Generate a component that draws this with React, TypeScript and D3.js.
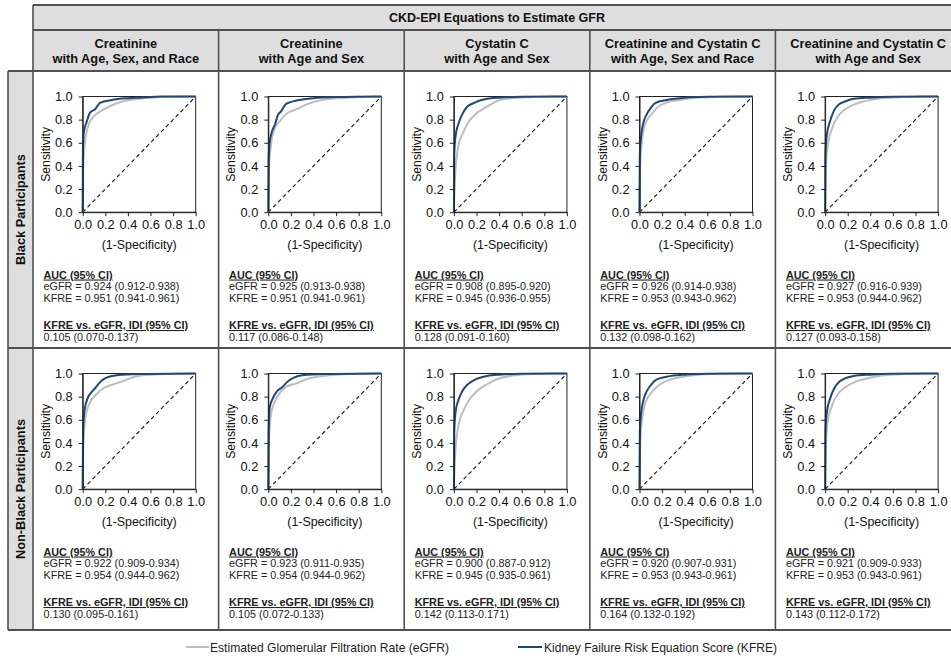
import React, { useEffect, useRef } from 'react';
import * as d3 from 'd3';

// header and row labels
const mainTitle = 'CKD-EPI Equations to Estimate GFR';
const columnTitles = [
  ['Creatinine', 'with Age, Sex, and Race'],
  ['Creatinine', 'with Age and Sex'],
  ['Cystatin C', 'with Age and Sex'],
  ['Creatinine and Cystatin C', 'with Age, Sex and Race'],
  ['Creatinine and Cystatin C', 'with Age and Sex'],
];
const rowLabels = ['Black Participants', 'Non-Black Participants'];
const tickValues = [0, 0.2, 0.4, 0.6, 0.8, 1.0];

// ROC curves, [1-specificity, sensitivity]
const egfrBlack = [
  [[0, 0], [0.005, 0.4], [0.02, 0.6], [0.05, 0.75], [0.1, 0.83], [0.17, 0.88], [0.25, 0.92], [0.35, 0.957], [0.5, 0.98], [0.7, 0.995], [1, 1]],
  [[0, 0], [0.005, 0.35], [0.024, 0.587], [0.054, 0.718], [0.1, 0.785], [0.158, 0.849], [0.25, 0.89], [0.35, 0.936], [0.5, 0.975], [0.7, 0.99], [1, 1]],
  [[0, 0], [0.01, 0.3], [0.039, 0.57], [0.083, 0.69], [0.137, 0.79], [0.2, 0.855], [0.292, 0.913], [0.38, 0.96], [0.5, 0.985], [0.7, 0.995], [1, 1]],
  [[0, 0], [0.005, 0.4], [0.02, 0.6], [0.05, 0.76], [0.11, 0.85], [0.15, 0.9], [0.245, 0.95], [0.35, 0.97], [0.5, 0.99], [0.7, 0.997], [1, 1]],
  [[0, 0], [0.005, 0.35], [0.02, 0.55], [0.06, 0.72], [0.12, 0.836], [0.164, 0.88], [0.254, 0.93], [0.35, 0.96], [0.5, 0.985], [0.7, 0.995], [1, 1]],
];
const kfreBlack = [
  [[0, 0], [0.002, 0.55], [0.01, 0.69], [0.035, 0.78], [0.065, 0.86], [0.11, 0.89], [0.153, 0.945], [0.257, 0.97], [0.4, 0.985], [0.5, 0.99], [0.7, 1], [1, 1]],
  [[0, 0], [0.003, 0.456], [0.012, 0.6], [0.03, 0.69], [0.06, 0.76], [0.083, 0.834], [0.113, 0.872], [0.158, 0.936], [0.25, 0.965], [0.4, 0.985], [0.6, 0.995], [1, 1]],
  [[0, 0], [0.003, 0.5], [0.015, 0.66], [0.039, 0.76], [0.068, 0.834], [0.113, 0.907], [0.173, 0.942], [0.292, 0.98], [0.4, 0.99], [0.6, 0.997], [1, 1]],
  [[0, 0], [0.003, 0.5], [0.015, 0.663], [0.036, 0.778], [0.066, 0.85], [0.1, 0.902], [0.143, 0.945], [0.24, 0.97], [0.4, 0.99], [0.6, 0.997], [1, 1]],
  [[0, 0], [0.003, 0.5], [0.015, 0.663], [0.045, 0.79], [0.08, 0.88], [0.128, 0.936], [0.17, 0.955], [0.254, 0.98], [0.4, 0.99], [0.6, 0.997], [1, 1]],
];
const egfrNonBlack = [
  [[0, 0], [0.005, 0.35], [0.024, 0.614], [0.05, 0.72], [0.12, 0.82], [0.18, 0.87], [0.27, 0.906], [0.36, 0.935], [0.45, 0.97], [0.6, 0.99], [1, 1]],
  [[0, 0], [0.005, 0.4], [0.02, 0.62], [0.05, 0.74], [0.1, 0.83], [0.15, 0.88], [0.25, 0.915], [0.35, 0.955], [0.5, 0.98], [0.7, 0.995], [1, 1]],
  [[0, 0], [0.01, 0.28], [0.04, 0.55], [0.085, 0.68], [0.14, 0.78], [0.2, 0.845], [0.29, 0.905], [0.38, 0.95], [0.5, 0.98], [0.7, 0.995], [1, 1]],
  [[0, 0], [0.005, 0.38], [0.02, 0.58], [0.05, 0.74], [0.11, 0.84], [0.16, 0.89], [0.25, 0.94], [0.35, 0.965], [0.5, 0.988], [0.7, 0.997], [1, 1]],
  [[0, 0], [0.005, 0.35], [0.02, 0.56], [0.06, 0.72], [0.12, 0.83], [0.17, 0.875], [0.26, 0.925], [0.36, 0.955], [0.5, 0.983], [0.7, 0.995], [1, 1]],
];
const kfreNonBlack = [
  [[0, 0], [0.003, 0.5], [0.015, 0.673], [0.045, 0.79], [0.075, 0.835], [0.113, 0.877], [0.164, 0.935], [0.21, 0.965], [0.3, 0.985], [0.5, 0.995], [1, 1]],
  [[0, 0], [0.003, 0.5], [0.012, 0.7], [0.042, 0.79], [0.078, 0.848], [0.117, 0.877], [0.177, 0.935], [0.228, 0.965], [0.3, 0.985], [0.5, 0.995], [1, 1]],
  [[0, 0], [0.003, 0.5], [0.015, 0.67], [0.04, 0.77], [0.07, 0.84], [0.115, 0.9], [0.175, 0.94], [0.29, 0.978], [0.4, 0.99], [0.6, 0.997], [1, 1]],
  [[0, 0], [0.003, 0.5], [0.015, 0.66], [0.036, 0.775], [0.066, 0.85], [0.1, 0.9], [0.145, 0.945], [0.24, 0.972], [0.4, 0.99], [0.6, 0.997], [1, 1]],
  [[0, 0], [0.003, 0.5], [0.015, 0.66], [0.045, 0.785], [0.08, 0.87], [0.128, 0.93], [0.17, 0.955], [0.254, 0.978], [0.4, 0.99], [0.6, 0.997], [1, 1]],
];

// AUC and IDI text per panel
const aucEgfr = [
  ['0.924 (0.912-0.938)', '0.925 (0.913-0.938)', '0.908 (0.895-0.920)', '0.926 (0.914-0.938)', '0.927 (0.916-0.939)'],
  ['0.922 (0.909-0.934)', '0.923 (0.911-0.935)', '0.900 (0.887-0.912)', '0.920 (0.907-0.931)', '0.921 (0.909-0.933)'],
];
const aucKfre = [
  ['0.951 (0.941-0.961)', '0.951 (0.941-0.961)', '0.945 (0.936-0.955)', '0.953 (0.943-0.962)', '0.953 (0.944-0.962)'],
  ['0.954 (0.944-0.962)', '0.954 (0.944-0.962)', '0.945 (0.935-0.961)', '0.953 (0.943-0.961)', '0.953 (0.943-0.961)'],
];
const idiValues = [
  ['0.105 (0.070-0.137)', '0.117 (0.086-0.148)', '0.128 (0.091-0.160)', '0.132 (0.098-0.162)', '0.127 (0.093-0.158)'],
  ['0.130 (0.095-0.161)', '0.105 (0.072-0.133)', '0.142 (0.113-0.171)', '0.164 (0.132-0.192)', '0.143 (0.112-0.172)'],
];

const legendItems = [
  { label: 'Estimated Glomerular Filtration Rate (eGFR)', color: '#bdbdbd' },
  { label: 'Kidney Failure Risk Equation Score (KFRE)', color: '#1f4878' },
];

const App = () => {
  const svgRef = useRef();

  useEffect(() => {
    const width = 951;
    const height = 661;
    const font = 'Liberation Sans, Arial, sans-serif';
    const lineColor = '#505050';
    const headBg = '#dedede';

    const svg = d3.select(svgRef.current);
    svg.selectAll('*').remove();
    svg.attr('width', width).attr('height', height);

    const tableLeft = 33;
    const labelLeft = 8;
    const colW = 185.6;
    const tableRight = tableLeft + colW * 5;
    const titleTop = 5;
    const headTop = 30;
    const rowTops = [71, 348, 630];

    // backgrounds
    svg.append('rect')
    .attr('x', tableLeft).attr('y', titleTop)
    .attr('width', tableRight - tableLeft).attr('height', rowTops[0] - titleTop)
    .attr('fill', headBg);
    svg.append('rect')
    .attr('x', labelLeft).attr('y', rowTops[0])
    .attr('width', tableLeft - labelLeft).attr('height', rowTops[2] - rowTops[0])
    .attr('fill', headBg);

    // grid lines
    const hLines = [
      [tableLeft, tableRight, titleTop],
      [tableLeft, tableRight, headTop],
      [labelLeft, tableRight, rowTops[0]],
      [labelLeft, tableRight, rowTops[1]],
      [labelLeft, tableRight, rowTops[2]],
    ];
    svg.append('g').selectAll('line')
    .data(hLines)
    .join('line')
    .attr('x1', d => d[0]).attr('x2', d => d[1])
    .attr('y1', d => d[2]).attr('y2', d => d[2])
    .attr('stroke', lineColor).attr('stroke-width', 1.8);

    const vLines = [[labelLeft, rowTops[0], rowTops[2]], [tableLeft, titleTop, rowTops[2]]];
    for (let c = 1; c <= 5; c++) vLines.push([tableLeft + c * colW, headTop, rowTops[2]]);
    svg.append('g').selectAll('line')
    .data(vLines)
    .join('line')
    .attr('x1', d => d[0]).attr('x2', d => d[0])
    .attr('y1', d => d[1]).attr('y2', d => d[2])
    .attr('stroke', lineColor).attr('stroke-width', 1.6);

    // titles
    svg.append('text')
    .attr('x', (tableLeft + tableRight) / 2).attr('y', 22)
    .attr('text-anchor', 'middle')
    .attr('font-family', font).attr('font-size', 12.5).attr('font-weight', 'bold')
    .attr('fill', '#111')
    .text(mainTitle);

    columnTitles.forEach((t, c) => {
      const cx = tableLeft + (c + 0.5) * colW;
      t.forEach((s, i) => {
        svg.append('text')
        .attr('x', cx).attr('y', 47.5 + i * 15.8)
        .attr('text-anchor', 'middle')
        .attr('font-family', font).attr('font-size', 12.8).attr('font-weight', 'bold')
        .attr('fill', '#111')
        .text(s);
      });
    });

    rowLabels.forEach((s, r) => {
      const cy = (rowTops[r] + rowTops[r + 1]) / 2;
      svg.append('text')
      .attr('transform', `translate(25,${cy}) rotate(-90)`)
      .attr('text-anchor', 'middle')
      .attr('font-family', font).attr('font-size', 12.8).attr('font-weight', 'bold')
      .attr('fill', '#111')
      .text(s);
    });

    // panels
    const curveSets = [[egfrBlack, kfreBlack], [egfrNonBlack, kfreNonBlack]];
    const plotW = 113;
    const plotH = 115.7;

    for (let r = 0; r < 2; r++) {
      for (let c = 0; c < 5; c++) {
        const x0 = tableLeft + c * colW;
        const y0 = rowTops[r];
        const px = x0 + 49.7;
        const py = y0 + 25.5;

        const x = d3.scaleLinear().domain([0, 1]).range([px, px + plotW]);
        const y = d3.scaleLinear().domain([0, 1]).range([py + plotH, py]);

        const g = svg.append('g');

        // frame
        g.append('rect')
        .attr('x', px).attr('y', py)
        .attr('width', plotW).attr('height', plotH)
        .attr('fill', 'none').attr('stroke', '#222').attr('stroke-width', 1);

        // diagonal reference
        g.append('line')
        .attr('x1', x(0)).attr('y1', y(0))
        .attr('x2', x(1)).attr('y2', y(1))
        .attr('stroke', '#111').attr('stroke-width', 1.1)
        .attr('stroke-dasharray', '4,3');

        // curves
        const line = d3.line()
        .x(d => x(d[0]))
        .y(d => y(d[1]))
        .curve(d3.curveMonotoneX);

        const [egfr, kfre] = curveSets[r];
        g.append('path')
        .datum(egfr[c])
        .attr('fill', 'none')
        .attr('stroke', legendItems[0].color)
        .attr('stroke-width', 2)
        .attr('d', line);
        g.append('path')
        .datum(kfre[c])
        .attr('fill', 'none')
        .attr('stroke', legendItems[1].color)
        .attr('stroke-width', 2)
        .attr('d', line);

        // axes
        const yAxis = g.append('g')
        .attr('transform', `translate(${px},0)`)
        .call(d3.axisLeft(y).tickValues(tickValues).tickFormat(d3.format('.1f')).tickSize(4).tickSizeOuter(0).tickPadding(6));
        const xAxis = g.append('g')
        .attr('transform', `translate(0,${py + plotH})`)
        .call(d3.axisBottom(x).tickValues(tickValues).tickFormat(d3.format('.1f')).tickSize(4).tickSizeOuter(0).tickPadding(4));

        [yAxis, xAxis].forEach(a => {
          a.select('.domain').attr('stroke', '#222');
          a.selectAll('line').attr('stroke', '#222');
          a.selectAll('text')
          .attr('font-family', font).attr('font-size', 12.8).attr('fill', '#111');
        });

        g.append('text')
        .attr('transform', `translate(${px - 33},${py + plotH / 2}) rotate(-90)`)
        .attr('text-anchor', 'middle')
        .attr('font-family', font).attr('font-size', 12.2).attr('fill', '#111')
        .text('Sensitivity');

        g.append('text')
        .attr('x', px + plotW / 2).attr('y', py + plotH + 36.5)
        .attr('text-anchor', 'middle')
        .attr('font-family', font).attr('font-size', 12.4).attr('fill', '#111')
        .text('(1-Specificity)');

        // statistics
        const tx = x0 + 10.5;
        const lines = [
          { t: 'AUC (95% CI)', dy: 207.5, bold: true },
          { t: `eGFR = ${aucEgfr[r][c]}`, dy: 219.2 },
          { t: `KFRE = ${aucKfre[r][c]}`, dy: 230.9 },
          { t: 'KFRE vs. eGFR, IDI (95% CI)', dy: 258, bold: true },
          { t: idiValues[r][c], dy: 269.7 },
        ];
        g.selectAll('.stat')
        .data(lines)
        .join('text')
        .attr('class', 'stat')
        .attr('x', tx)
        .attr('y', d => y0 + d.dy)
        .attr('font-family', font)
        .attr('font-size', 10.8)
        .attr('font-weight', d => d.bold ? 'bold' : 'normal')
        .attr('text-decoration', d => d.bold ? 'underline' : 'none')
        .attr('fill', '#222')
        .text(d => d.t);
      }
    }

    // legend
    const legendY = 647;
    const legendPos = [
      { x1: 186, x2: 209, tx: 210, w: 239 },
      { x1: 518, x2: 542, tx: 544, w: 233 },
    ];
    legendItems.forEach((item, i) => {
      const p = legendPos[i];
      svg.append('line')
      .attr('x1', p.x1).attr('x2', p.x2)
      .attr('y1', legendY).attr('y2', legendY)
      .attr('stroke', item.color).attr('stroke-width', 2);
      svg.append('text')
      .attr('x', p.tx).attr('y', legendY + 5)
      .attr('font-family', 'Liberation Sans Narrow, Arial Narrow, Liberation Sans, Arial, sans-serif')
      .attr('font-size', 13)
      .attr('textLength', p.w)
      .attr('lengthAdjust', 'spacingAndGlyphs')
      .attr('fill', '#222')
      .text(item.label);
    });
  });

  return (
    <svg ref={svgRef} style={{ position: 'absolute', left: 0, top: 0, background: '#fff' }}></svg>
  );
};

export default App;
